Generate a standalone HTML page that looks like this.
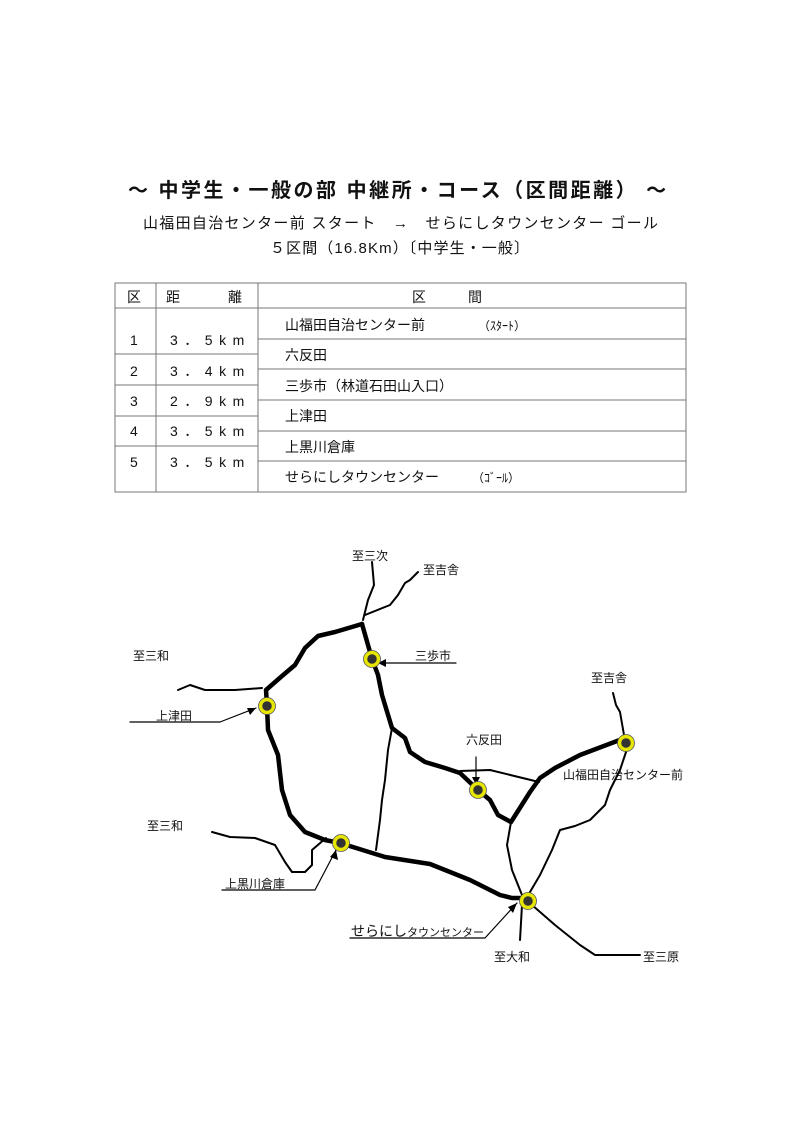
<!DOCTYPE html>
<html><head><meta charset="utf-8"><style>
body{margin:0;background:#fff;}
.p{position:relative;width:800px;height:1131px;overflow:hidden;font-family:"Liberation Sans","Noto Sans CJK JP",sans-serif;color:#111;}
.t{position:absolute;white-space:nowrap;}
svg{position:absolute;left:0;top:0;}
</style></head><body><div class="p">
<div class="t" style="left:128px;top:174px;font-size:20px;font-weight:bold;letter-spacing:2.5px">〜 中学生・一般の部 中継所・コース（区間距離） 〜</div>
<div class="t" style="left:143px;top:212px;font-size:15px;letter-spacing:1.3px">山福田自治センター前 スタート　→　せらにしタウンセンター ゴール</div>
<div class="t" style="left:270px;top:237px;font-size:15px;letter-spacing:1.1px">５区間（16.8Km）〔中学生・一般〕</div>
<svg width="800" height="1131" viewBox="0 0 800 1131">
<g stroke="#777" stroke-width="1" fill="none">
<rect x="115" y="283" width="571" height="209"/>
<line x1="156" y1="283" x2="156" y2="492"/><line x1="258" y1="283" x2="258" y2="492"/>
<line x1="115" y1="308" x2="686" y2="308"/>
<line x1="258" y1="339" x2="686" y2="339"/><line x1="258" y1="369" x2="686" y2="369"/><line x1="258" y1="400" x2="686" y2="400"/><line x1="258" y1="431" x2="686" y2="431"/><line x1="258" y1="461" x2="686" y2="461"/>
<line x1="115" y1="354" x2="258" y2="354"/><line x1="115" y1="385" x2="258" y2="385"/><line x1="115" y1="416" x2="258" y2="416"/><line x1="115" y1="446" x2="258" y2="446"/>
</g>
<g font-size="14" fill="#111" font-family="Liberation Sans, Noto Sans CJK JP, sans-serif">
<text x="127" y="302">区</text><text x="166" y="302">距</text><text x="228" y="302">離</text><text x="412" y="302">区</text><text x="468" y="302">間</text>
<text x="130" y="345">1</text><text x="130" y="376">2</text><text x="130" y="406">3</text><text x="130" y="436">4</text><text x="130" y="467">5</text>
<g letter-spacing="6.5"><text x="170" y="345">3．5km</text><text x="170" y="376">3．4km</text><text x="170" y="406">2．9km</text><text x="170" y="436">3．5km</text><text x="170" y="467">3．5km</text></g>
<text x="285" y="330">山福田自治センター前</text><text x="478" y="330" font-size="12">（ｽﾀｰﾄ）</text>
<text x="285" y="360">六反田</text>
<text x="285" y="391">三歩市（林道石田山入口）</text>
<text x="285" y="421">上津田</text>
<text x="285" y="452">上黒川倉庫</text>
<text x="285" y="482">せらにしタウンセンター</text><text x="472" y="482" font-size="12">（ｺﾞｰﾙ）</text>
</g>
<g fill="none" stroke="#000" stroke-linejoin="round" stroke-linecap="round">
<g stroke-width="2">
<path d="M372,562 L374,585 L368,600 L363,620"/>
<path d="M418,572 L410,580 L405,583 L398,595 L390,605 L365,615"/>
<path d="M178,690 L190,685 L205,690 L235,690 L262,688"/>
<path d="M392,728 L388,750 L385,780 L382,800 L380,820 L376,850"/>
<path d="M460,771 L490,770 L539,782"/>
<path d="M613,693 L616,705 L620,712 L624,735"/>
<path d="M626,752 L620,770 L610,790 L605,805 L590,820 L575,826 L560,830 L552,850 L540,875 L530,892"/>
<path d="M511,822 L507,845 L512,870 L522,895"/>
<path d="M212,832 L230,837 L255,838 L275,845 L285,862 L292,872 L305,872 L312,865 L312,850 L326,838"/>
<path d="M522,905 L520,940"/>
<path d="M532,905 L555,925 L580,945 L595,955 L640,955"/>
</g>
<g stroke-width="4.5">
<path d="M362,624 L335,632 L318,636 L305,648 L295,665 L282,676 L266,690 L267,706"/>
<path d="M362,624 L372,659 L378,675 L382,695 L392,728 L405,738 L410,752 L425,762 L445,768 L460,773 L478,790 L490,800 L498,815 L511,822 L530,792 L540,778 L555,768 L580,755 L625,738"/>
<path d="M267,706 L268,730 L278,755 L282,790 L290,815 L305,832 L325,840 L340,843"/>
<path d="M340,843 L385,857 L430,864 L470,880 L500,895 L512,898 L527,898"/>
</g>
<g stroke-width="1.2">
<path d="M130,722 L220,722 L256,708"/>
<path d="M456,663 L378,663"/>
<path d="M476,757 L476,784"/>
<path d="M222,890 L315,890 L336,850"/>
<path d="M350,938 L485,938 L517,903"/>
</g>
</g>
<g fill="#000">
<polygon points="256,708 247,708 250,715"/>
<polygon points="378,663 386,659 386,667"/>
<polygon points="476,785 472,777 480,777"/>
<polygon points="336,850 330,857 338,860"/>
<polygon points="517,903 508,907 513,913"/>
</g>
<g fill="#333" stroke="#e6e600" stroke-width="3.5">
<circle cx="267" cy="706" r="6.5"/><circle cx="372" cy="659" r="6.5"/><circle cx="478" cy="790" r="6.5"/><circle cx="626" cy="743" r="6.5"/><circle cx="341" cy="843" r="6.5"/><circle cx="528" cy="901" r="6.5"/>
</g>
<g fill="none" stroke="#555" stroke-width="0.8">
<circle cx="267" cy="706" r="8.5"/><circle cx="372" cy="659" r="8.5"/><circle cx="478" cy="790" r="8.5"/><circle cx="626" cy="743" r="8.5"/><circle cx="341" cy="843" r="8.5"/><circle cx="528" cy="901" r="8.5"/>
</g>
<g font-size="12" fill="#111" font-family="Liberation Sans, Noto Sans CJK JP, sans-serif">
<text x="352" y="560">至三次</text><text x="423" y="574">至吉舎</text>
<text x="133" y="660">至三和</text><text x="415" y="660">三歩市</text>
<text x="591" y="682">至吉舎</text><text x="156" y="720">上津田</text>
<text x="466" y="744">六反田</text><text x="563" y="779">山福田自治センター前</text>
<text x="147" y="830">至三和</text><text x="225" y="888">上黒川倉庫</text>
<text x="351" y="936" font-size="14">せらにし<tspan font-size="11">タウンセンター</tspan></text>
<text x="494" y="961">至大和</text><text x="643" y="961">至三原</text>
</g>
</svg>
</div></body></html>
